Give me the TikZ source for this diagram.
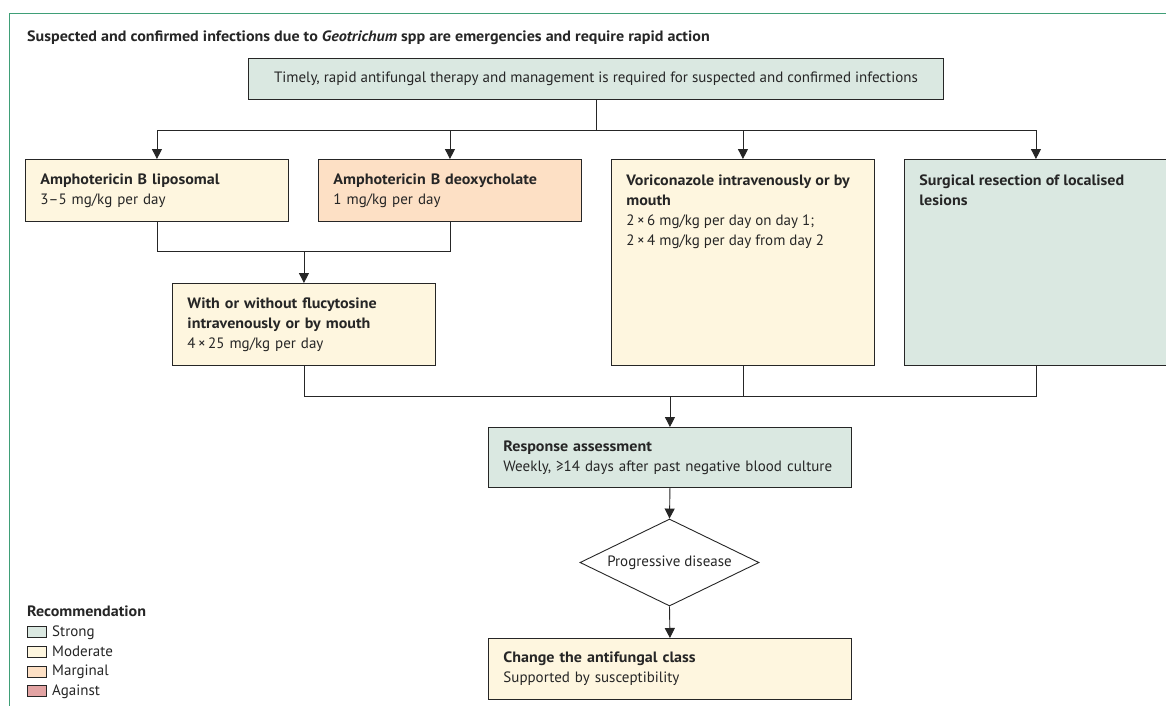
\documentclass[tikz,border=0pt]{standalone}
\usepackage{fontspec}
\setmainfont{PT Sans}[BoldFeatures={FakeStretch=1.07},BoldItalicFeatures={FakeStretch=1.07}]
\usetikzlibrary{arrows.meta,shapes.geometric,positioning}
\definecolor{strongc}{HTML}{DAE8E1}
\definecolor{moderatec}{HTML}{FEF6DF}
\definecolor{marginalc}{HTML}{FDE0C5}
\definecolor{againstc}{HTML}{E2A3A3}
\definecolor{framec}{HTML}{3F9F77}
\definecolor{ink}{HTML}{262626}
\tikzset{
  recbox/.style={draw=ink, line width=0.9pt, anchor=north west, inner xsep=15pt, inner ysep=0pt, minimum height=#1, align=left},
  ln/.style={draw=ink, line width=0.9pt},
  arr/.style={ln, -{Triangle[width=10pt,length=10pt]}},
}
\newcommand{\txtsize}{\fontsize{15}{20}\selectfont}
\newcommand{\toptxt}[2]{\begin{minipage}[c][#1][t]{233pt}\raggedright\vspace*{15.5pt}#2\end{minipage}}

\begin{document}
\begin{tikzpicture}[x=1pt,y=-1pt,font=\txtsize,text=ink]
  \clip (0,0) rectangle (1166,705);
  \fill[white] (0,0) rectangle (1166,705);
  \draw[framec,line width=1.4pt] (9.3,706) -- (9.3,13.3) -- (1167,13.3);
  \node[anchor=base west,inner sep=0pt,font=\txtsize\bfseries] (title) at (27,41)
    {Suspected and confirmed infections due to \textit{Geotrichum} spp are emergencies and require rapid action};
  \node[recbox=41pt,fill=strongc,minimum width=695pt] (top) at (248,57.7)
    {Timely, rapid antifungal therapy and management is required for suspected and confirmed infections};

  \node[recbox=62pt,fill=moderatec,text width=233pt] (lipo) at (25,159)
    {\textbf{Amphotericin B liposomal}\\3–5 mg/kg per day};
  \node[recbox=62pt,fill=marginalc,text width=233pt] (deoxy) at (318,159)
    {\textbf{Amphotericin B deoxycholate}\\1 mg/kg per day};
  \node[recbox=206pt,fill=moderatec] (vori) at (611,159)
    {\toptxt{206pt}{\textbf{Voriconazole intravenously or by}\\\textbf{mouth}\\2\,×\,6 mg/kg per day on day 1;\\2\,×\,4 mg/kg per day from day 2}};
  \node[recbox=206pt,fill=strongc] (surg) at (904,159)
    {\toptxt{206pt}{\textbf{Surgical resection of localised}\\\textbf{lesions}}};
  \node[recbox=82pt,fill=moderatec,text width=233pt] (flucy) at (172,283)
    {\textbf{With or without flucytosine}\\\textbf{intravenously or by mouth}\\4\,×\,25 mg/kg per day};

  \node[recbox=60pt,fill=strongc,text width=333pt] (resp) at (488,427)
    {\textbf{Response assessment}\\Weekly, ≥14 days after past negative blood culture};
  \node[diamond,shape aspect=2.06,draw=ink,line width=0.9pt,fill=white,minimum width=179pt,minimum height=87pt,inner sep=0pt] (prog) at (669.5,562.5)
    {Progressive disease};
  \node[recbox=61pt,fill=moderatec,text width=333pt] (change) at (488,638)
    {\textbf{Change the antifungal class}\\Supported by susceptibility};

  \draw[ln] (top.south) -- ++(0,30.5) coordinate (split);
  \draw[arr] (split) -| (lipo.north);
  \draw[arr] (split) -| (deoxy.north);
  \draw[arr] (split) -| (vori.north);
  \draw[arr] (split) -| (surg.north);

  \draw[ln] (lipo.south) -- ++(0,30) coordinate (amjoin) -| (deoxy.south);
  \draw[arr] (amjoin -| flucy.north) -- (flucy.north);

  \draw[ln] (flucy.south) -- ++(0,31) coordinate (mainjoin) -| (surg.south);
  \draw[ln] (vori.south) -- (vori.south |- mainjoin);
  \draw[arr] (mainjoin -| resp.north) -- (resp.north);
  \draw[arr] (resp.south) -- (prog.north);
  \draw[arr] (prog.south) -- (change.north);

  \node[anchor=base west,inner sep=0pt,font=\txtsize\bfseries] (legend) at (27,616) {Recommendation};
  \foreach \col/\txt [count=\i] in {strongc/Strong,moderatec/Moderate,marginalc/Marginal,againstc/Against}{
    \node[draw=ink,line width=0.8pt,fill=\col,anchor=west,minimum width=19pt,minimum height=11pt,inner sep=0pt] (sw\i) at (27,612+19.8*\i) {};
    \node[anchor=base west,inner sep=0pt] (key\i) at (52,616.5+19.8*\i) {\txt};
  }
\end{tikzpicture}
\end{document}
